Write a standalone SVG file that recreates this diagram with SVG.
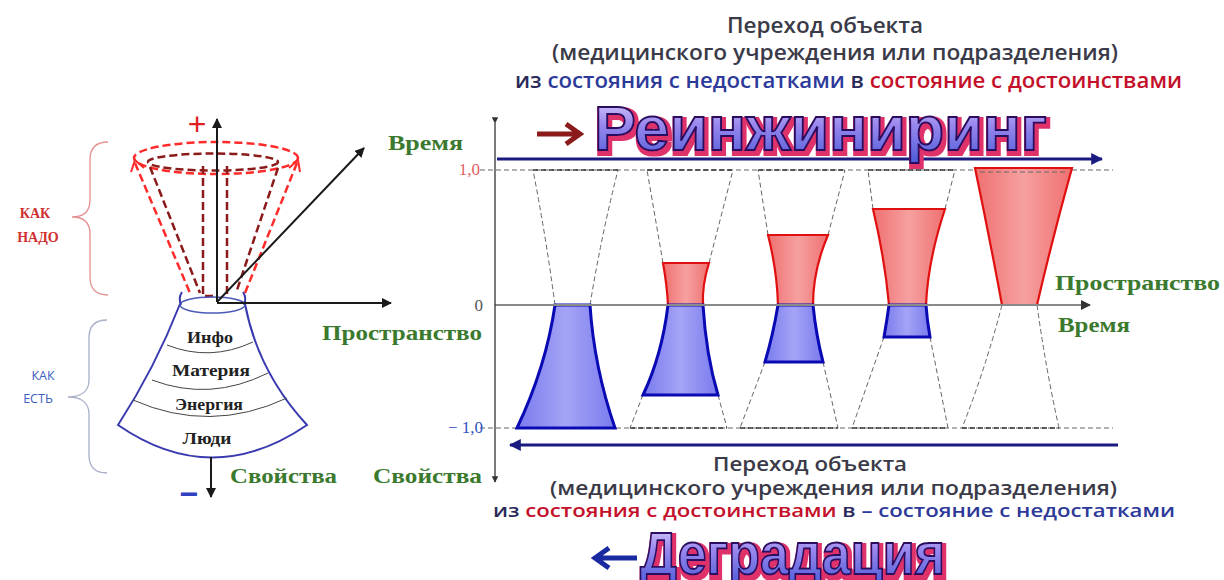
<svg xmlns="http://www.w3.org/2000/svg" width="1224" height="580" viewBox="0 0 1224 580">
<style>
.dr{fill:none;stroke:#ff2a2a;stroke-width:2.5;stroke-dasharray:8 4}
.dd{fill:none;stroke:#8b1a1a;stroke-width:2.5;stroke-dasharray:8 4}
.ax{fill:none;stroke:#1a1a1a;stroke-width:2}
.gd{fill:none;stroke:#666;stroke-width:1;stroke-dasharray:5 3}
.kd{fill:none;stroke:#333;stroke-width:1.6;stroke-dasharray:5 3}
.red{fill:url(#rg);stroke:#e01010;stroke-width:2.2}
.blue{fill:url(#bg);stroke:#0a0ab4;stroke-width:3}
.green{font-family:"Liberation Serif",serif;font-weight:bold;fill:#3b7a2e}
.band{font-family:"Liberation Serif",serif;font-weight:bold;fill:#222;font-size:17px}
.cap{font-family:"Open Sans","Liberation Sans",sans-serif;fill:#3a3a48;font-weight:600}
.wa{font-family:"Liberation Sans",sans-serif;font-weight:bold;font-size:44px;fill:url(#wg);stroke:#2a1060;stroke-width:1.4;filter:url(#wf)}
.nv{fill:#2a2a5a}.bl{fill:#2d3a9a}.rd{fill:#c4102a}
</style>
<defs>
<linearGradient id="wg" x1="0" y1="0" x2="0" y2="1">
<stop offset="0" stop-color="#eadcff"/><stop offset="0.45" stop-color="#9a88ee"/><stop offset="1" stop-color="#4a5ad8"/>
</linearGradient>
<linearGradient id="rg" x1="0" y1="0" x2="1" y2="0">
<stop offset="0" stop-color="#f07070"/><stop offset="0.5" stop-color="#f6a0a0"/><stop offset="1" stop-color="#f07070"/>
</linearGradient>
<linearGradient id="bg" x1="0" y1="0" x2="1" y2="0">
<stop offset="0" stop-color="#7a7aee"/><stop offset="0.5" stop-color="#a4a4f6"/><stop offset="1" stop-color="#7a7aee"/>
</linearGradient>
<filter id="wf" x="-5%" y="-20%" width="110%" height="140%">
<feMorphology in="SourceAlpha" operator="dilate" radius="1.5" result="d"/>
<feOffset in="d" dx="2" dy="2" result="o"/>
<feFlood flood-color="#e0306a"/>
<feComposite in2="o" operator="in" result="s"/>
<feMerge><feMergeNode in="s"/><feMergeNode in="SourceGraphic"/></feMerge>
</filter>
<marker id="ak" viewBox="0 0 10 10" refX="9" refY="5" markerWidth="5" markerHeight="5" orient="auto-start-reverse"><path d="M0,0 L10,5 L0,10 Z" fill="#1a1a1a"/></marker>
<marker id="an" viewBox="0 0 10 10" refX="9" refY="5" markerWidth="4" markerHeight="4" orient="auto-start-reverse"><path d="M0,0 L10,5 L0,10 Z" fill="#1a1a80"/></marker>
<marker id="ag" viewBox="0 0 10 10" refX="9" refY="5" markerWidth="5" markerHeight="5" orient="auto"><path d="M0,0 L10,5 L0,10 Z" fill="#333"/></marker>
</defs>
<rect width="1224" height="580" fill="#fff"/>

<g id="left-diagram">
  <g id="brace-nado">
    <path d="M108,142 C96,142 90,148 90,160 L90,200 C90,212 84,217 72,217 C84,217 90,222 90,234 L90,277 C90,289 96,295 108,295" fill="none" stroke="#e59090" stroke-width="1.3"/>
    <text x="35" y="218" text-anchor="middle" font-family="Liberation Serif,serif" font-weight="bold" font-size="14" fill="#d03030">КАК</text>
    <text x="38" y="242" text-anchor="middle" font-family="Liberation Serif,serif" font-weight="bold" font-size="14" fill="#d03030">НАДО</text>
  </g>
  <g id="brace-est">
    <path d="M107,320 C95,320 89,326 89,338 L89,380 C89,392 80,397 68,397 C80,397 89,402 89,414 L89,455 C89,467 95,473 107,473" fill="none" stroke="#a8b0c8" stroke-width="1.3"/>
    <text x="43" y="380" text-anchor="middle" font-family="Open Sans,Liberation Sans,sans-serif" font-size="12.5" fill="#4060c0">КАК</text>
    <text x="38" y="403" text-anchor="middle" font-family="Open Sans,Liberation Sans,sans-serif" font-size="12.5" fill="#4060c0">ЕСТЬ</text>
  </g>
  <g id="cone-nado">
    <ellipse cx="216" cy="158" rx="82" ry="16" class="dr"/>
    <ellipse cx="213" cy="162" rx="65" ry="8.5" class="dd"/>
    <path class="dr" d="M135,163 L190,293"/>
    <path class="dd" d="M150,167 L200,293"/>
    <path class="dd" d="M203,166 L203,296 L216,296"/>
    <path class="dd" d="M227,166 L227,296"/>
    <path class="dd" d="M278,168 L236,293"/>
    <path class="dr" d="M297,163 L245,293"/>
    <path d="M131,172 L135,160 L144,168" fill="none" stroke="#ff2a2a" stroke-width="2"/>
    <path d="M289,168 L298,160 L300,172" fill="none" stroke="#ff2a2a" stroke-width="2"/>
    <text x="197" y="135" text-anchor="middle" font-family="Liberation Sans,sans-serif" font-size="32" fill="#e02020">+</text>
  </g>
  <g id="cone-est">
    <path d="M180,304 Q155,368 118,425 Q212,490 307,425 Q258,372 245,304" fill="none" stroke="#3a3ab0" stroke-width="2"/>
    <ellipse cx="212.5" cy="305" rx="32.5" ry="8" fill="none" stroke="#4a5ab8" stroke-width="1.5"/>
    <path d="M182,292 Q178,298 181,305 M243,292 Q247,298 244,305" fill="none" stroke="#3a3ab0" stroke-width="2"/>
    <path d="M167,345 Q210,362 253,342 M152,380 Q210,402 268,373 M133,400 Q210,434 287,398" fill="none" stroke="#444" stroke-width="1"/>
    <text class="band" x="210" y="343" text-anchor="middle" textLength="46" lengthAdjust="spacingAndGlyphs">Инфо</text>
    <text class="band" x="211" y="376" text-anchor="middle" textLength="78" lengthAdjust="spacingAndGlyphs">Материя</text>
    <text class="band" x="209" y="410" text-anchor="middle" textLength="68" lengthAdjust="spacingAndGlyphs">Энергия</text>
    <text class="band" x="207" y="444" text-anchor="middle" textLength="49" lengthAdjust="spacingAndGlyphs">Люди</text>
  </g>
  <g id="axes-left">
    <line class="ax" x1="217" y1="302" x2="217" y2="119" marker-end="url(#ak)"/>
    <line class="ax" x1="217" y1="303" x2="391" y2="303" marker-end="url(#ak)"/>
    <line class="ax" x1="217" y1="302" x2="364" y2="148" marker-end="url(#ak)"/>
    <line class="ax" x1="211" y1="457" x2="211" y2="497" marker-end="url(#ak)"/>
    <text x="189" y="505" text-anchor="middle" font-family="Liberation Sans,sans-serif" font-weight="bold" font-size="32" fill="#3040c0">−</text>
  </g>
  <text class="green" x="388" y="150" font-size="22" textLength="75" lengthAdjust="spacingAndGlyphs">Время</text>
  <text class="green" x="322" y="340" font-size="22" textLength="160" lengthAdjust="spacingAndGlyphs">Пространство</text>
  <text class="green" x="230" y="483" font-size="22" textLength="107" lengthAdjust="spacingAndGlyphs">Свойства</text>
  <text class="green" x="373" y="483" font-size="22" textLength="109" lengthAdjust="spacingAndGlyphs">Свойства</text>
</g>

<g id="chart">
  <g id="grid">
    <line class="gd" x1="480" y1="170" x2="1113" y2="170"/>
    <line class="gd" x1="480" y1="428" x2="1113" y2="428"/>
    <path class="kd" d="M533,170 L618,170 M647,170 L733,170 M758,170 L845,170 M868,170 L955,170 M630,428 L727,428 M740,428 L838,428 M852,428 L948,428 M962,428 L1059,428"/>
  </g>
  <g id="connectors">
    <path class="gd" d="M555,305 Q546,237 533,170 M590,305 Q601,237 618,170"/>
    <path class="gd" d="M663,263 L647,170 M709,263 L733,170 M643,395 L630,428 M718,395 L727,428"/>
    <path class="gd" d="M768,235 L758,170 M828,235 L845,170 M765,362 L740,428 M823,362 L838,428"/>
    <path class="gd" d="M873,209 L868,170 M945,209 L955,170 M884,337 L852,428 M930,337 L948,428"/>
    <path class="gd" d="M1002,305 Q985,370 962,428 M1037,305 Q1046,370 1059,428"/>
  </g>
  <g id="shape-1"><path class="blue" d="M555,305 L590,305 Q594,367 615,428 L517,428 Q546,367 555,305 Z"/></g>
  <g id="shape-2">
    <path class="red" d="M663,263 L709,263 Q702,285 703,305 L668,305 Q667,285 663,263 Z"/>
    <path class="blue" d="M668,305 L703,305 Q706,355 718,395 L643,395 Q662,355 668,305 Z"/>
  </g>
  <g id="shape-3">
    <path class="red" d="M768,235 L828,235 Q813,270 813,305 L778,305 Q777,270 768,235 Z"/>
    <path class="blue" d="M778,305 L813,305 Q816,335 823,362 L765,362 Q773,335 778,305 Z"/>
  </g>
  <g id="shape-4">
    <path class="red" d="M873,209 L945,209 Q928,260 926,305 L889,305 Q885,260 873,209 Z"/>
    <path class="blue" d="M889,305 L926,305 Q927,320 930,337 L884,337 Q887,320 889,305 Z"/>
  </g>
  <g id="shape-5">
    <path class="red" d="M975,168 L1072,168 Q1052,240 1037,305 L1002,305 Q990,240 975,168 Z"/>
    <line class="gd" x1="980" y1="172" x2="1068" y2="172"/>
  </g>
  <g id="axes-chart">
    <line x1="495" y1="305" x2="1090" y2="305" stroke="#8a8a8a" stroke-width="2" marker-end="url(#ag)"/>
    <line x1="495" y1="123" x2="495" y2="482" stroke="#333" stroke-width="1.3" marker-start="url(#ag)" marker-end="url(#ag)"/>
    <line x1="497" y1="159" x2="1102" y2="159" stroke="#1a1a80" stroke-width="3" marker-end="url(#an)"/>
    <line x1="1118" y1="445" x2="510" y2="445" stroke="#1a1a80" stroke-width="3" marker-end="url(#an)"/>
  </g>
  <text x="480" y="175" text-anchor="end" font-family="Liberation Serif,serif" font-size="17" fill="#e06060">1,0</text>
  <text x="483" y="311" text-anchor="end" font-family="Liberation Serif,serif" font-size="17" fill="#555">0</text>
  <text x="483" y="433" text-anchor="end" font-family="Liberation Serif,serif" font-size="17" fill="#3050c0">− 1,0</text>
  <text class="green" x="1055" y="290" font-size="22" textLength="165" lengthAdjust="spacingAndGlyphs">Пространство</text>
  <text class="green" x="1058" y="332" font-size="22" textLength="72" lengthAdjust="spacingAndGlyphs">Время</text>
</g>

<g id="top-caption">
  <text class="cap" x="727" y="33" font-size="22" textLength="196" lengthAdjust="spacingAndGlyphs">Переход объекта</text>
  <text class="cap" x="552" y="60" font-size="22" textLength="566" lengthAdjust="spacingAndGlyphs">(медицинского учреждения или подразделения)</text>
  <text class="cap" x="515" y="88" font-size="21" font-weight="bold" textLength="667" lengthAdjust="spacingAndGlyphs"><tspan class="nv">из </tspan><tspan class="bl">состояния с недостатками</tspan><tspan class="nv"> в </tspan><tspan class="rd">состояние с достоинствами</tspan></text>
</g>
<g id="title-reeng">
  <path d="M537,134 L578,134 M566,124 L580,134 L566,144" fill="none" stroke="#8b1a1a" stroke-width="5"/>
  <g transform="translate(594,150) scale(1,1.45)"><text class="wa" x="0" y="0" textLength="453" lengthAdjust="spacingAndGlyphs">Реинжиниринг</text></g>
</g>

<g id="bottom-caption">
  <text class="cap" x="713" y="471" font-size="19" textLength="194" lengthAdjust="spacingAndGlyphs">Переход объекта</text>
  <text class="cap" x="550" y="495" font-size="19" textLength="567" lengthAdjust="spacingAndGlyphs">(медицинского учреждения или подразделения)</text>
  <text class="cap" x="493" y="517" font-size="18" font-weight="bold" textLength="682" lengthAdjust="spacingAndGlyphs"><tspan class="nv">из </tspan><tspan class="rd">состояния с достоинствами</tspan><tspan class="nv"> в </tspan><tspan class="bl">– состояние с недостатками</tspan></text>
</g>
<g id="title-degr">
  <path d="M637,558 L597,558 M609,548 L595,558 L609,568" fill="none" stroke="#1a2aa0" stroke-width="5"/>
  <g transform="translate(640,574) scale(1,1.36)"><text class="wa" x="0" y="0" textLength="305" lengthAdjust="spacingAndGlyphs">Деградация</text></g>
</g>
</svg>
